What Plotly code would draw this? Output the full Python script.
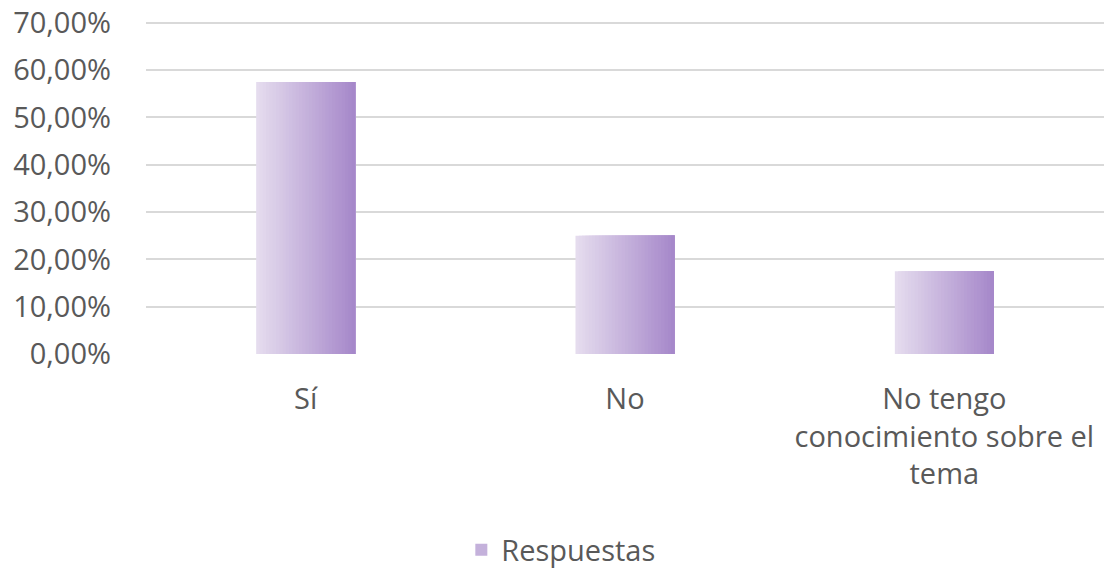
import plotly.graph_objects as go

categories = ["Sí", "No", "No tengo conocimiento sobre el tema"]
tick_labels = ["Sí", "No", "No tengo<br>conocimiento sobre el<br>tema"]
values = [0.575, 0.25, 0.175]
series_name = "Respuestas"
y_ticks = [0, 0.1, 0.2, 0.3, 0.4, 0.5, 0.6, 0.7]

left_rgb = (229, 220, 238)
right_rgb = (166, 136, 202)
n_slices = 30
bar_width = 0.31

fig = go.Figure()
for i in range(n_slices):
    t = i / (n_slices - 1)
    c = tuple(round(left_rgb[k] + (right_rgb[k] - left_rgb[k]) * t) for k in range(3))
    w = bar_width / n_slices
    fig.add_trace(go.Bar(
        x=categories, y=values,
        width=[bar_width - i * w] * len(categories),
        offset=[-bar_width / 2 + i * w] * len(categories),
        marker=dict(color=f"rgb{c}", line=dict(width=0)),
        name=series_name,
        showlegend=(i == n_slices // 2),
        hoverinfo="skip" if i != n_slices // 2 else None,
    ))

fig.update_layout(
    width=1104, height=568,
    margin=dict(l=146, r=0, t=18, b=214, autoexpand=False),
    barmode="overlay",
    separators=",.",
    paper_bgcolor="white", plot_bgcolor="white",
    font=dict(family="Open Sans, Lato, sans-serif", size=29, color="#595959"),
    xaxis=dict(
        type="category",
        tickvals=categories, ticktext=tick_labels,
        showgrid=False, zeroline=False, showline=False,
        ticks="", ticklabelstandoff=25, automargin=False,
        range=[-0.5, 2.5],
        tickfont=dict(size=29),
    ),
    yaxis=dict(
        range=[0, 0.71], tickvals=y_ticks, tickformat=".2%",
        showgrid=True, gridcolor="#D9D9D9", gridwidth=1.5,
        zeroline=False, showline=False, ticks="",
        ticklabelstandoff=34, automargin=False,
        tickfont=dict(size=29),
        ticklabeloverflow="allow",
    ),
    legend=dict(
        orientation="h", xref="container", yref="container",
        x=0.508, xanchor="center", y=0.032, yanchor="middle",
        font=dict(size=29, color="#595959"),
    ),
)

fig.write_html(
    "out.html",
    config={"displayModeBar": False},
    post_script="document.body.style.margin='0';",
)
